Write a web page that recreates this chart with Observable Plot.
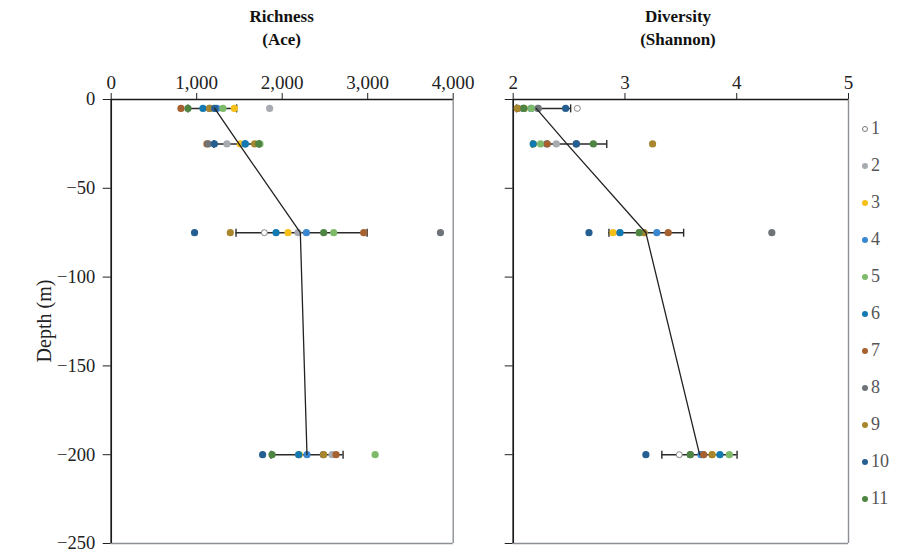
<!DOCTYPE html>
<html>
<head>
<meta charset="utf-8">
<script src="https://cdn.jsdelivr.net/npm/d3@7"></script>
<script src="https://cdn.jsdelivr.net/npm/@observablehq/plot@0.6"></script>
<style>
  body { margin: 0; background: #fff; }
  #wrap { position: relative; width: 914px; height: 555px; font-family: "Liberation Serif", "Times New Roman", serif; overflow: hidden; }
  .title { position: absolute; top: 5px; width: 240px; margin-left: -120px; text-align: center; font-weight: bold; font-size: 17px; line-height: 23px; color: #111; }
  .ylab { position: absolute; left: 44px; top: 321px; transform: translate(-50%, -50%) rotate(-90deg); font-size: 20px; color: #222; white-space: nowrap; }
  .leg { position: absolute; left: 862px; height: 20px; line-height: 20px; font-size: 18px; color: #555; white-space: nowrap; }
  .leg span.dot { display: inline-block; width: 6px; height: 6px; border-radius: 50%; vertical-align: middle; margin-right: 3px; box-sizing: border-box; position: relative; top: -1px; }
  svg { position: absolute; top: 0; overflow: visible; }
</style>
</head>
<body>
<div id="wrap"></div>
<script>
// ---- data ----
const series = ["1", "2", "3", "4", "5", "6", "7", "8", "9", "10", "11"];
const colors = ["#ffffff", "#A7ABB1", "#F5C01A", "#3A87CF", "#7DBB6A", "#1379B1", "#A5612F", "#6E7378", "#A8862D", "#255E91", "#4E8542"];
const depths = [-5, -25, -75, -200];
const depthTicks = [0, -50, -100, -150, -200, -250];

// Richness (Ace), one array per depth, series 1..11
const aceAt5   = [1215, 1853, 1440, 1237, 1307, 1073, 816, 1150, 1151, 1210, 898];
const aceAt25  = [1565, 1354, 1510, 1565, 1740, 1569, 1120, 1135, 1678, 1206, 1725];
const aceAt75  = [1791, 2185, 2068, 2283, 2602, 1928, 2953, 3851, 1393, 975, 2485];
const aceAt200 = [2190, 2583, 2200, 2290, 3087, 2193, 2630, 2480, 2485, 1771, 1881];
const aceMean = [1210, 1494, 2212, 2290];
const aceLow  = [898, 1200, 1460, 1869];
const aceHigh = [1467, 1733, 2993, 2712];
const aceTicks = [0, 1000, 2000, 3000, 4000];

// Diversity (Shannon)
const shanAt5   = [2.574, 2.22, 2.10, 2.16, 2.164, 2.09, 2.04, 2.224, 2.036, 2.469, 2.095];
const shanAt25  = [2.56, 2.386, 2.18, 2.30, 2.245, 2.179, 2.305, 2.565, 3.247, 2.565, 2.717];
const shanAt75  = [2.95, 3.17, 2.893, 3.285, 3.13, 2.956, 3.387, 4.314, 3.171, 2.678, 3.127];
const shanAt200 = [3.486, 3.70, 3.78, 3.68, 3.934, 3.85, 3.704, 3.585, 3.779, 3.187, 3.584];
const shanMean = [2.206, 2.48, 3.187, 3.668];
const shanLow  = [2.03, 2.17, 2.857, 3.33];
const shanHigh = [2.514, 2.837, 3.525, 4.003];
const shanTicks = [2, 3, 4, 5];

// ---- build ----
const wrap = document.getElementById("wrap");
const capSymbol = { draw(ctx, size) { const h = Math.sqrt(size / Math.PI); ctx.moveTo(0, -h); ctx.lineTo(0, h); } };

function panel({ rows, mean, low, high, ticks, fmt, yLabels, left, width, marginLeft, marginRight }) {
  const pts = [];
  rows.forEach((row, i) => row.forEach((v, j) => pts.push({ depth: depths[i], v, s: series[j] })));
  const stats = depths.map((d, i) => ({ depth: d, mean: mean[i], low: low[i], high: high[i] }));
  const x0 = ticks[0], x1 = ticks[ticks.length - 1];
  const svg = Plot.plot({
    width, height: 555,
    marginTop: 99, marginBottom: 12, marginLeft, marginRight,
    style: { fontFamily: "Liberation Serif, Times New Roman, serif", fontSize: "19px", color: "#222", background: "none", overflow: "visible" },
    x: { domain: [x0, x1] },
    y: { domain: [-250, 0] },
    color: { domain: series, range: colors },
    marks: [
      Plot.axisX({ anchor: "top", ticks, tickFormat: fmt, tickSize: 7, tickPadding: 4, label: null, stroke: "#222", fontSize: 19 }),
      Plot.axisY({ ticks: depthTicks, tickSize: 8, tickPadding: 8, tickFormat: yLabels ? (d => d3.format("")(d).replace("-", "\u2212")) : () => "", label: null, stroke: "#222", fontSize: 18.5 }),
      Plot.ruleY([-250], { x1: x0, x2: x1, stroke: "#8C9095", strokeWidth: 1.4 }),
      Plot.ruleX([x1], { y1: -250, y2: 0, stroke: "#8C9095", strokeWidth: 1.4 }),
      Plot.ruleX([x0], { y1: -250, y2: 0, stroke: "#1a1a1a", strokeWidth: 1.7 }),
      Plot.ruleY([0], { x1: x0, x2: x1, stroke: "#1a1a1a", strokeWidth: 1.7 }),
      // error bars
      Plot.ruleY(stats, { y: "depth", x1: "low", x2: "high", stroke: "#2a2a2a", strokeWidth: 1.5 }),
      Plot.dot(stats, { x: "low", y: "depth", symbol: capSymbol, r: 4, stroke: "#2a2a2a", strokeWidth: 1.4, fill: "none" }),
      Plot.dot(stats, { x: "high", y: "depth", symbol: capSymbol, r: 4, stroke: "#2a2a2a", strokeWidth: 1.4, fill: "none" }),
      // points
      Plot.dot(pts.filter(d => d.s === "1"), { x: "v", y: "depth", r: 3, fill: "white", stroke: "#777", strokeWidth: 0.9 }),
      Plot.dot(pts.filter(d => d.s !== "1"), { x: "v", y: "depth", r: 3.6, fill: "s" }),
      // mean profile
      Plot.line(stats, { x: "mean", y: "depth", stroke: "#222", strokeWidth: 1.3 })
    ]
  });
  svg.style.left = left + "px";
  wrap.appendChild(svg);
}

panel({ rows: [aceAt5, aceAt25, aceAt75, aceAt200], mean: aceMean, low: aceLow, high: aceHigh,
  ticks: aceTicks, fmt: d3.format(","), yLabels: true, left: 0, width: 480, marginLeft: 110.7, marginRight: 27.3 });
panel({ rows: [shanAt5, shanAt25, shanAt75, shanAt200], mean: shanMean, low: shanLow, high: shanHigh,
  ticks: shanTicks, fmt: d3.format("d"), yLabels: false, left: 480, width: 434, marginLeft: 32.7, marginRight: 66 });

// titles
[["Richness", "(Ace)", 281.7], ["Diversity", "(Shannon)", 678]].forEach(([a, b, cx]) => {
  const t = document.createElement("div");
  t.className = "title";
  t.style.left = cx + "px";
  t.innerHTML = a + "<br>" + b;
  wrap.appendChild(t);
});

const yl = document.createElement("div");
yl.className = "ylab";
yl.textContent = "Depth (m)";
wrap.appendChild(yl);

// legend
series.forEach((s, i) => {
  const item = document.createElement("div");
  item.className = "leg";
  item.style.top = (118 + i * 37) + "px";
  const dot = document.createElement("span");
  dot.className = "dot";
  if (i === 0) { dot.style.background = "#fff"; dot.style.border = "1px solid #777"; }
  else dot.style.background = colors[i];
  item.appendChild(dot);
  item.appendChild(document.createTextNode(s));
  wrap.appendChild(item);
});
</script>
</body>
</html>
